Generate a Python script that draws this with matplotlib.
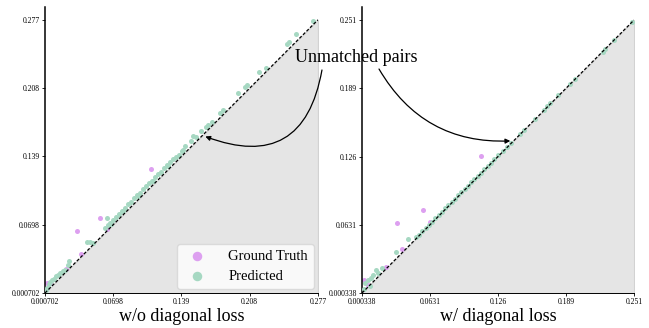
import matplotlib
matplotlib.use("Agg")
import matplotlib.pyplot as plt
import numpy as np

plt.rcParams['font.family'] = ['Liberation Serif', 'DejaVu Serif']

# axis ranges / tick labels
lo_a, hi_a = 0.000702, 0.277
lo_b, hi_b = 0.000338, 0.251
ticks_a = ['0.000702', '0.0698', '0.139', '0.208', '0.277']
ticks_b = ['0.000338', '0.0631', '0.126', '0.189', '0.251']

# w/o diagonal loss
gt_a_x = [0.108, 0.0567, 0.0328, 0.0368, 0.0024, 0.0058, 0.063, 0.022]
gt_a_y = [0.126, 0.0763, 0.0638, 0.0402, 0.0111, 0.0108, 0.065, 0.0245]
pred_a_x = [0.272, 0.255, 0.248, 0.246, 0.224, 0.217, 0.205, 0.203, 0.196,
            0.181, 0.178, 0.170, 0.166, 0.164, 0.159, 0.154, 0.151, 0.149,
            0.142, 0.139, 0.136, 0.133,
            0.130, 0.127, 0.124, 0.121, 0.118, 0.115, 0.112, 0.109, 0.106,
            0.103, 0.100, 0.097, 0.094, 0.091, 0.088, 0.085, 0.082, 0.079,
            0.076, 0.073, 0.070, 0.067, 0.064, 0.061,
            0.140, 0.125, 0.110, 0.095, 0.080, 0.068,
            0.0631, 0.0429, 0.0462, 0.0496,
            0.0253, 0.0243, 0.0209, 0.0159, 0.0118, 0.0078, 0.0047, 0.0027,
            0.0190, 0.0140, 0.0100, 0.0060, 0.0015]
pred_a_y = [0.276, 0.263, 0.255, 0.253, 0.228, 0.224, 0.211, 0.209, 0.203,
            0.186, 0.183, 0.174, 0.171, 0.169, 0.165, 0.159, 0.160, 0.154,
            0.149, 0.144, 0.140, 0.138,
            0.136, 0.133, 0.130, 0.127, 0.123, 0.121, 0.118, 0.114, 0.112,
            0.109, 0.106, 0.102, 0.100, 0.097, 0.093, 0.091, 0.087, 0.084,
            0.081, 0.078, 0.075, 0.072, 0.069, 0.066,
            0.145, 0.129, 0.114, 0.099, 0.084, 0.071,
            0.0769, 0.0523, 0.0523, 0.0513,
            0.0331, 0.0290, 0.0240, 0.0209, 0.0179, 0.0139, 0.0098, 0.0058,
            0.0230, 0.0190, 0.0150, 0.0115, 0.0040]

# w/ diagonal loss
gt_b_x = [0.1099, 0.0568, 0.0329, 0.0369, 0.0630, 0.0222, 0.0025, 0.0061]
gt_b_y = [0.1264, 0.0768, 0.0643, 0.0407, 0.0652, 0.0245, 0.0123, 0.0077]
pred_b_x = [0.249, 0.233, 0.224, 0.222, 0.197, 0.192, 0.181, 0.174, 0.171,
            0.168, 0.160, 0.150, 0.146, 0.138, 0.134, 0.130, 0.126,
            0.122, 0.119, 0.116, 0.113, 0.110, 0.107, 0.104, 0.101, 0.098,
            0.095, 0.092, 0.089, 0.086, 0.083, 0.080, 0.077, 0.074, 0.071,
            0.068, 0.065, 0.062, 0.059, 0.056, 0.053, 0.050,
            0.0424, 0.0317, 0.0185, 0.0132, 0.0107, 0.0030, 0.0060, 0.0077,
            0.0022, 0.0150, 0.0090]
pred_b_y = [0.249, 0.233, 0.224, 0.222, 0.197, 0.192, 0.182, 0.175, 0.172,
            0.168, 0.160, 0.150, 0.146, 0.138, 0.134, 0.131, 0.127,
            0.123, 0.120, 0.117, 0.114, 0.111, 0.108, 0.105, 0.102, 0.099,
            0.096, 0.093, 0.090, 0.087, 0.084, 0.081, 0.078, 0.075, 0.072,
            0.069, 0.066, 0.063, 0.060, 0.057, 0.054, 0.052,
            0.0496, 0.0383, 0.0230, 0.0215, 0.0169, 0.0095, 0.0120, 0.0068,
            0.0040, 0.0190, 0.0140]

gt_color = '#dda0f0'
pred_color = '#a6d8c2'

fig = plt.figure(figsize=(6.49, 3.28), dpi=100)
ax1 = fig.add_axes([0.0693, 0.1067, 0.4206, 0.872])
ax2 = fig.add_axes([0.5578, 0.1067, 0.4191, 0.872])


def draw(ax, lo, hi, ytop, tick_labels, gx, gy, px, py):
    ax.set_facecolor('none')
    ax.fill_between([lo, hi], [lo, hi], lo, facecolor='#e5e5e5',
                    edgecolor='#d2d2d2', linewidth=0.8, zorder=1)
    ax.scatter(gx, gy, s=13, color=gt_color, linewidths=0, zorder=2,
               label='Ground Truth')
    ax.scatter(px, py, s=13, color=pred_color, linewidths=0, zorder=3,
               label='Predicted')
    ax.plot([lo, hi], [lo, hi], color='black', lw=0.9, ls=(0, (2.5, 1.5)),
            zorder=4)
    ax.set_xlim(lo, hi)
    ax.set_ylim(lo, ytop)
    ticks = np.linspace(lo, hi, 5)
    ax.set_xticks(ticks)
    ax.set_xticklabels(tick_labels)
    ax.set_yticks(ticks)
    ax.set_yticklabels(tick_labels)
    ax.tick_params(labelsize=5.5, length=2, width=0.6, pad=1.5)
    for s in ['top', 'right']:
        ax.spines[s].set_visible(False)
    ax.spines['left'].set_linewidth(1.1)
    ax.spines['bottom'].set_linewidth(0.7)


draw(ax1, lo_a, hi_a, 0.290, ticks_a, gt_a_x, gt_a_y, pred_a_x, pred_a_y)
draw(ax2, lo_b, hi_b, 0.263, ticks_b, gt_b_x, gt_b_y, pred_b_x, pred_b_y)

ax1.set_xlabel('w/o diagonal loss', fontsize=13, labelpad=1.5)
ax2.set_xlabel('w/ diagonal loss', fontsize=13, labelpad=1.5)

leg = ax1.legend(loc='lower right', fontsize=10.5, markerscale=1.9,
                 handletextpad=1.1, borderpad=0.4, labelspacing=0.45,
                 borderaxespad=0.3, framealpha=0.8, edgecolor='#d5d5d5')

ax1.annotate('Unmatched pairs', xy=(0.5485, 0.826), xycoords='figure fraction',
             ha='center', va='center', fontsize=13, annotation_clip=False)
ax1.annotate('', xy=(0.163, 0.159), xycoords='data',
             xytext=(0.4961, 0.7866), textcoords='figure fraction',
             annotation_clip=False,
             arrowprops=dict(arrowstyle='-|>', color='black', lw=0.9,
                             mutation_scale=7, shrinkA=0, shrinkB=0,
                             connectionstyle='arc3,rad=-0.6'))
ax2.annotate('', xy=(0.137, 0.140), xycoords='data',
             xytext=(0.584, 0.7896), textcoords='figure fraction',
             annotation_clip=False,
             arrowprops=dict(arrowstyle='-|>', color='black', lw=0.9,
                             mutation_scale=7, shrinkA=0, shrinkB=0,
                             connectionstyle='arc3,rad=0.3'))

fig.savefig('out.png', dpi=100)
